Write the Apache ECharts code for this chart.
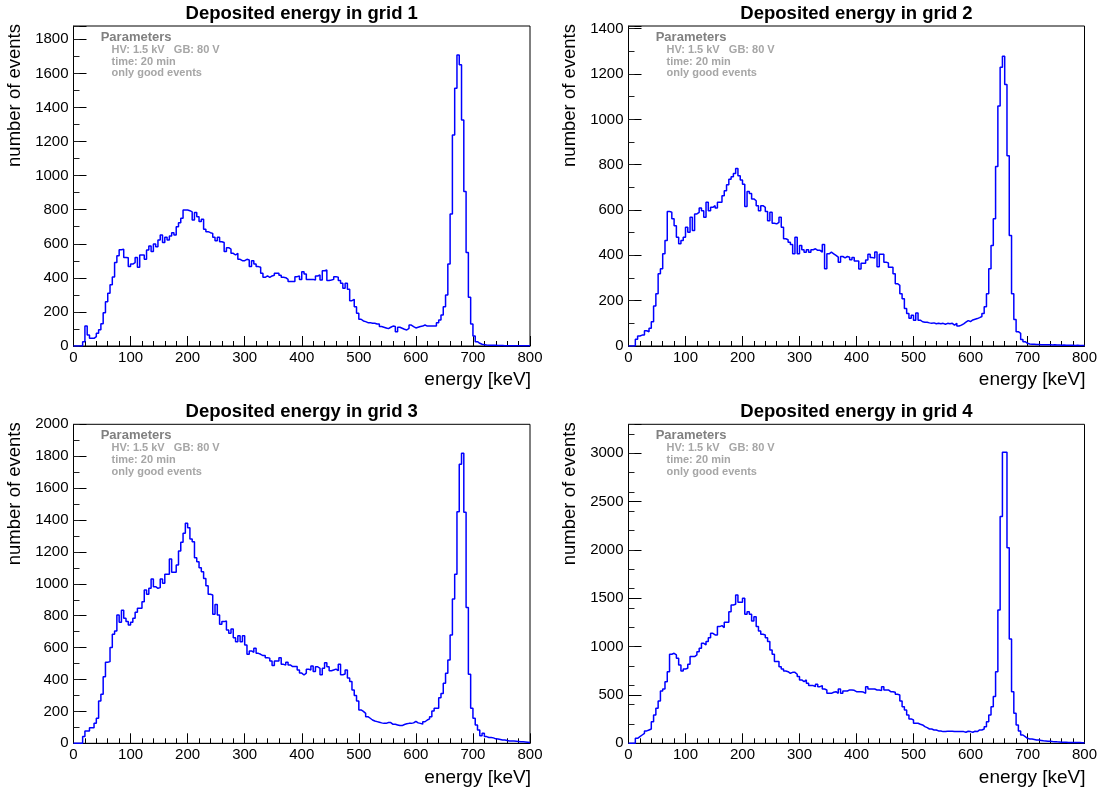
<!DOCTYPE html>
<html>
<head>
<meta charset="utf-8">
<title>Deposited energy per grid</title>
<script src="https://cdn.jsdelivr.net/npm/echarts@6/dist/echarts.min.js"></script>
<style>
  html, body { margin: 0; padding: 0; background: #ffffff; }
  #chart { width: 1102px; height: 788px; }
</style>
</head>
<body>
<div id="chart"></div>
<script>
// Energy binning of the histograms (keV)
const binWidth = 4;
const energyMin = 0;
const energyMax = 800;

// Counts per 4 keV bin, 200 bins from 0 to 800 keV
const grid1Counts = [
  0,0,0,0,25,117,65,45,45,55,75,95,130,195,260,310,360,405,490,530,
  565,568,520,518,466,481,490,520,462,534,534,509,564,587,554,599,583,622,652,607,
  638,622,646,665,652,700,724,750,798,798,794,787,740,783,759,730,744,685,671,665,
  661,638,618,638,612,607,554,577,568,544,534,544,509,501,501,509,505,466,501,481,
  466,462,427,403,411,403,411,415,427,427,415,403,401,391,378,378,378,407,411,391,
  436,423,391,391,391,387,411,417,387,442,446,384,387,391,407,403,384,368,339,368,
  333,266,274,231,192,157,147,143,137,137,133,133,129,129,114,110,106,102,110,117,
  114,84,110,104,98,94,104,123,114,106,110,114,117,123,117,117,117,117,117,137,
  153,182,231,299,481,775,1239,1513,1708,1650,1327,906,548,286,129,59,25,16,10,8,
  6,5,5,4,4,3,3,3,2,2,2,2,2,1,1,1,1,1,1,1
];
const grid2Counts = [
  0,0,0,30,44,48,48,67,63,78,107,177,231,319,341,407,466,594,590,561,
  531,480,451,466,480,524,502,568,510,583,590,609,597,568,634,597,612,619,609,634,
  634,663,685,712,736,747,761,783,751,732,714,616,682,673,649,641,619,597,619,612,
  594,553,590,542,539,546,568,524,473,469,458,448,407,480,407,444,425,414,425,414,
  425,429,422,422,414,448,341,407,414,407,400,392,370,395,389,395,392,381,390,375,
  375,340,365,365,380,405,390,388,415,350,405,405,370,366,348,348,319,275,268,231,
  209,165,143,122,136,114,146,114,107,105,105,102,100,102,98,100,98,100,96,100,
  98,100,92,100,88,92,98,105,112,108,115,118,121,125,130,143,173,231,341,444,
  561,792,1059,1230,1278,1154,839,488,231,117,63,56,29,19,12,9,8,8,7,7,
  6,6,5,5,6,4,5,4,4,3,4,3,3,3,3,2,3,2,2,2
];
const grid3Counts = [
  0,0,0,0,42,77,77,98,98,125,157,265,307,418,508,512,600,683,704,805,
  759,834,784,763,742,759,784,821,846,846,888,961,934,972,1030,982,972,976,1030,1003,
  1060,1060,1156,1072,1072,1118,1206,1260,1317,1379,1352,1281,1264,1164,1139,1101,1076,1034,988,934,
  930,809,871,805,746,763,767,711,690,717,662,637,675,637,675,617,558,579,571,596,
  564,558,550,550,537,533,516,487,516,516,537,495,491,508,491,481,481,481,460,440,
  428,440,465,460,485,450,480,470,430,470,505,480,455,460,465,455,495,430,435,460,
  410,387,334,300,265,209,200,188,167,157,146,140,136,132,128,125,125,130,130,119,
  119,115,111,111,118,122,125,125,128,138,128,125,120,135,146,153,167,203,219,219,
  286,313,376,439,522,679,905,1060,1452,1749,1818,1448,851,433,219,157,115,84,48,63,
  42,36,36,34,28,27,24,21,20,18,15,15,14,13,12,10,9,8,7,5
];
const grid4Counts = [
  0,0,0,52,69,86,103,128,138,148,224,293,362,438,541,562,638,741,921,931,
  914,879,810,748,769,776,817,897,897,914,948,983,1034,1017,1052,1093,1138,1121,1121,1207,
  1217,1197,1252,1252,1362,1431,1438,1534,1459,1459,1500,1334,1362,1334,1266,1310,1207,1162,1128,1121,
  1093,1052,966,921,845,845,793,769,748,741,724,734,734,714,690,655,638,655,621,597,
  597,586,610,586,597,562,552,517,517,528,534,517,562,517,541,541,552,552,548,534,
  534,534,530,517,586,562,562,562,552,552,545,586,552,552,534,534,528,507,500,438,
  379,345,293,252,241,207,207,197,190,172,162,148,148,138,138,128,128,121,121,125,
  125,125,121,121,121,121,121,114,125,121,114,125,121,138,138,148,172,224,293,379,
  483,741,1379,2345,3010,3010,2024,1079,534,310,190,128,86,69,52,45,45,40,34,34,
  30,26,24,22,20,18,17,15,14,12,10,10,9,9,8,8,7,7,6,5
];

// Axis ranges and tick spacing for each pad
const countsMax = [1878, 1412, 2000, 3300];
const countsMajorStep = [200, 200, 200, 500];
const countsMinorStep = [100, 100, 100, 200];
const energyMajorStep = 100;

// Texts
const padTitles = [
  'Deposited energy in grid 1',
  'Deposited energy in grid 2',
  'Deposited energy in grid 3',
  'Deposited energy in grid 4'
];
const xTitle = 'energy [keV]';
const yTitle = 'number of events';
const paramHeader = 'Parameters';
const paramLines = ['HV: 1.5 kV   GB: 80 V', 'time: 20 min', 'only good events'];

const allCounts = [grid1Counts, grid2Counts, grid3Counts, grid4Counts];

// ---- layout of the 2x2 pads ----
const FONT = '"Liberation Sans", Arial, Helvetica, sans-serif';
const frames = [
  { left: 73.5,  top: 26,    width: 456.5, height: 320 },
  { left: 628.5, top: 26,    width: 456,   height: 320 },
  { left: 73.5,  top: 424.3, width: 456.5, height: 319 },
  { left: 628.5, top: 424.3, width: 456,   height: 319 }
];

// Histogram outline: one point per bin low edge plus the upper edge of the last bin
function histPoints(counts) {
  const pts = counts.map((c, i) => [energyMin + i * binWidth, c]);
  pts.push([energyMax, counts[counts.length - 1]]);
  return pts;
}

const grids = [], xAxes = [], yAxes = [], series = [], titles = [], graphics = [];

frames.forEach((f, p) => {
  grids.push({
    left: f.left, top: f.top, width: f.width, height: f.height,
    show: true, borderColor: '#000', borderWidth: 1, containLabel: false
  });

  xAxes.push({
    gridIndex: p, type: 'value', min: energyMin, max: energyMax, interval: energyMajorStep,
    axisLine: { show: true, onZero: false, lineStyle: { color: '#000', width: 1 } },
    axisTick: { show: true, inside: true, length: 10, lineStyle: { color: '#000', width: 1 } },
    minorTick: { show: true, splitNumber: 5, length: 5, lineStyle: { color: '#000', width: 1 } },
    axisLabel: { show: true, margin: 4, color: '#000', fontSize: 15, fontFamily: FONT },
    splitLine: { show: false }, minorSplitLine: { show: false }
  });

  const major = countsMajorStep[p];
  // labelled axis with major ticks
  yAxes.push({
    gridIndex: p, type: 'value', min: 0, max: countsMax[p], interval: major, position: 'left',
    axisLine: { show: true, onZero: false, lineStyle: { color: '#000', width: 1 } },
    axisTick: { show: true, inside: true, length: 13, lineStyle: { color: '#000', width: 1 } },
    axisLabel: {
      show: true, margin: 5, color: '#000', fontSize: 15, fontFamily: FONT,
      formatter: v => (v % major === 0 ? String(v) : '')
    },
    splitLine: { show: false }
  });
  // companion axis carrying the short secondary ticks
  yAxes.push({
    gridIndex: p, type: 'value', min: 0, max: countsMax[p], interval: countsMinorStep[p], position: 'left',
    axisLine: { show: false },
    axisTick: { show: true, inside: true, length: 6, lineStyle: { color: '#222', width: 1 } },
    axisLabel: { show: false },
    splitLine: { show: false }
  });

  series.push({
    type: 'line', name: padTitles[p], xAxisIndex: p, yAxisIndex: 2 * p,
    step: 'end', symbol: 'none', silent: true, animation: false, clip: true,
    lineStyle: { color: '#0000ff', width: 1.5 },
    data: histPoints(allCounts[p])
  });

  titles.push({
    text: padTitles[p],
    left: f.left + f.width / 2, top: f.top - 22, textAlign: 'center', padding: 0,
    textStyle: { fontFamily: FONT, fontWeight: 'bold', fontSize: 18.5, color: '#000', lineHeight: 20 }
  });

  // axis titles
  graphics.push({
    type: 'text', x: f.left + f.width + 1, y: f.top + f.height + 34,
    style: { text: xTitle, font: '19px ' + FONT, fill: '#000', textAlign: 'right', textVerticalAlign: 'middle' }
  });
  graphics.push({
    type: 'text', x: f.left - 59, y: f.top - 2, rotation: Math.PI / 2,
    style: { text: yTitle, font: '18.5px ' + FONT, fill: '#000', textAlign: 'right', textVerticalAlign: 'middle' }
  });

  // run parameters box
  graphics.push({
    type: 'text', x: f.left + 27.2, y: f.top + 11,
    style: { text: paramHeader, font: 'bold 13px ' + FONT, fill: '#808080', textAlign: 'left', textVerticalAlign: 'middle' }
  });
  paramLines.forEach((line, k) => {
    graphics.push({
      type: 'text', x: f.left + 38, y: f.top + 24 + k * 11.7,
      style: { text: line, font: 'bold 11px ' + FONT, fill: '#a6a6a6', textAlign: 'left', textVerticalAlign: 'middle' }
    });
  });
});

const chart = echarts.init(document.getElementById('chart'), null, { renderer: 'canvas' });
chart.setOption({
  backgroundColor: '#ffffff',
  animation: false,
  title: titles,
  grid: grids,
  xAxis: xAxes,
  yAxis: yAxes,
  series: series,
  graphic: { elements: graphics }
});
</script>
</body>
</html>
